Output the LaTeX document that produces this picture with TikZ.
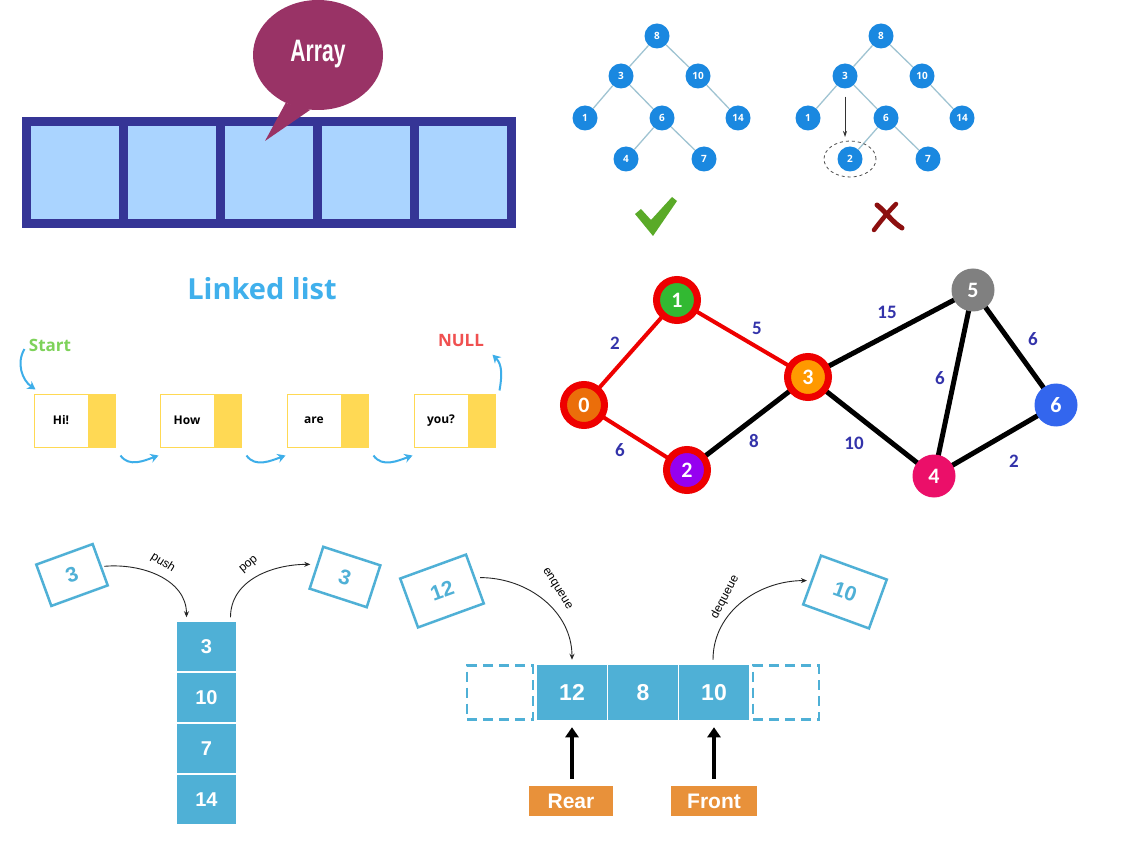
\documentclass[tikz,border=0pt]{standalone}
\usepackage{fontspec}
\setmainfont{Liberation Sans}
\newfontfamily\osans{Open Sans}
\newfontfamily\carl{Carlito}
\usepackage{graphicx}
\usetikzlibrary{shapes.geometric,arrows.meta}
\pgfdeclarelayer{edgelayer}
\pgfsetlayers{edgelayer,main}
\definecolor{arraydark}{RGB}{53,53,150}
\definecolor{arraycell}{RGB}{170,212,255}
\definecolor{bubblec}{RGB}{153,51,102}
\definecolor{treeblue}{RGB}{26,136,224}
\definecolor{treeedge}{RGB}{160,196,210}
\definecolor{checkgreen}{RGB}{90,170,40}
\definecolor{crossred}{RGB}{140,15,15}
\definecolor{lltitle}{RGB}{64,176,236}
\definecolor{startgreen}{RGB}{126,210,90}
\definecolor{nullred}{RGB}{240,80,80}
\definecolor{llyellow}{RGB}{255,217,84}
\definecolor{llarrowc}{RGB}{61,174,233}
\definecolor{ringred}{RGB}{238,0,0}
\definecolor{gz}{RGB}{235,110,10}
\definecolor{ga}{RGB}{50,185,50}
\definecolor{gb}{RGB}{150,0,240}
\definecolor{gc}{RGB}{255,153,0}
\definecolor{gd}{RGB}{235,15,105}
\definecolor{ge}{RGB}{128,128,128}
\definecolor{gf}{RGB}{51,102,238}
\definecolor{wlabel}{RGB}{51,51,170}
\definecolor{sq}{RGB}{79,176,214}
\definecolor{orangebox}{RGB}{232,145,58}
\begin{document}
\begin{tikzpicture}[x=1pt,y=1pt,
  arrcell/.style={rectangle, fill=arraycell, minimum width=88, minimum height=93, inner sep=0},
  bst/.style={circle, fill=treeblue, minimum size=25, inner sep=0, text=white, font=\osans\bfseries\fontsize{10}{10}\selectfont},
  bstedge/.style={treeedge, line width=1.3},
  lltitlestyle/.style={text=lltitle, font=\osans\bfseries\fontsize{29}{32}\selectfont},
  lldata/.style={rectangle, draw=llyellow, line width=1, fill=white, minimum width=54, minimum height=53, inner sep=0, font=\osans\bfseries\fontsize{12}{14}\selectfont},
  llptr/.style={rectangle, draw=llyellow, line width=1, fill=llyellow, minimum width=27, minimum height=53, inner sep=0},
  llarrow/.style={llarrowc, line width=2, -{Stealth[length=8pt,width=9pt]}},
  ringnode/.style={circle, draw=ringred, line width=7, minimum size=41, inner sep=0, text=white, font=\carl\bfseries\fontsize{22}{22}\selectfont},
  plainnode/.style={circle, minimum size=43, inner sep=0, text=white, font=\carl\bfseries\fontsize{22}{22}\selectfont},
  redge/.style={ringred, line width=4},
  bedge/.style={black, line width=5},
  wl/.style={text=wlabel, font=\carl\bfseries\fontsize{19}{19}\selectfont},
  sqcell/.style={rectangle, fill=sq, draw=white, line width=1.5, minimum width=61, minimum height=51, inner sep=0, text=white, font=\bfseries\fontsize{20}{20}\selectfont},
  qcell/.style={rectangle, fill=sq, draw=white, line width=1.5, minimum width=71, minimum height=56, inner sep=0, text=white, font=\bfseries\fontsize{23}{23}\selectfont},
  qdash/.style={rectangle, draw=sq, line width=2.5, dash pattern=on 10pt off 6pt, minimum width=66, minimum height=54, inner sep=0},
  tilted/.style={rectangle, draw=sq, line width=2.5, fill=white, inner sep=0, text=sq, font=\bfseries\fontsize{21}{21}\selectfont},
  opline/.style={black!85, line width=0.9, -{Stealth[length=6pt,width=5pt]}},
  oplabel/.style={font=\fontsize{12}{12}\selectfont, inner sep=0},
  thickarrow/.style={black, line width=3.2, -{Triangle[length=10pt,width=13pt]}},
  ptrbox/.style={rectangle, fill=orangebox, minimum height=30, inner sep=0, text=white, font=\bfseries\fontsize{21}{21}\selectfont}
]
\useasboundingbox (0,0) rectangle (1133,-850);
\begin{pgfonlayer}{edgelayer}
\fill[white] (0,0) rectangle (1133,-850);
\end{pgfonlayer}

% ---------------- Array ----------------
\node[rectangle, fill=arraydark, minimum width=494, minimum height=111, inner sep=0, anchor=north west] (arr) at (22,-117) {};
\node[arrcell] (c1) at (75,-172.5) {};
\node[arrcell] (c2) at (172,-172.5) {};
\node[arrcell] (c3) at (269,-172.5) {};
\node[arrcell] (c4) at (366,-172.5) {};
\node[arrcell] (c5) at (463,-172.5) {};
\node[ellipse, fill=bubblec, minimum width=130, minimum height=110, inner sep=0] (bub) at (318,-55) {};
\coordinate (tailtip) at (265,-141);
\fill[bubblec] (bub.236) -- (tailtip) -- (bub.262) -- cycle;
\node[text=white, inner sep=0] (arrtxt) at ([yshift=1]bub.center) {\scalebox{0.68}[1]{\bfseries\fontsize{31}{31}\selectfont Array}};

% ---------------- BST (valid) ----------------
\node[bst] (a8) at (657,-36) {8};
\node[bst] (a3) at (621,-76) {3};
\node[bst] (a10) at (698,-76) {10};
\node[bst] (a1) at (585,-118) {1};
\node[bst] (a6) at (662,-118) {6};
\node[bst] (a14) at (738,-118) {14};
\node[bst] (a4) at (626,-159) {4};
\node[bst] (a7) at (704,-159) {7};
\draw[bstedge] (a8) -- (a3); \draw[bstedge] (a8) -- (a10);
\draw[bstedge] (a3) -- (a1); \draw[bstedge] (a3) -- (a6);
\draw[bstedge] (a10) -- (a14);
\draw[bstedge] (a6) -- (a4); \draw[bstedge] (a6) -- (a7);

% ---------------- BST (invalid) ----------------
\node[bst] (b8) at (881,-36) {8};
\node[bst] (b3) at (845,-76) {3};
\node[bst] (b10) at (922,-76) {10};
\node[bst] (b1) at (808,-118) {1};
\node[bst] (b6) at (886,-118) {6};
\node[bst] (b14) at (962,-118) {14};
\node[bst] (b2) at (850,-159) {2};
\node[bst] (b7) at (928,-159) {7};
\draw[bstedge] (b8) -- (b3); \draw[bstedge] (b8) -- (b10);
\draw[bstedge] (b3) -- (b1); \draw[bstedge] (b3) -- (b6);
\draw[bstedge] (b10) -- (b14);
\draw[bstedge] (b6) -- (b2); \draw[bstedge] (b6) -- (b7);
\node[ellipse, draw=black!70, dashed, line width=0.8, minimum width=52, minimum height=36, inner sep=0] (ring2) at (b2) {};
\coordinate (arrend) at (845,-137);
\draw[black!80, line width=0.8, -{Stealth[length=6pt,width=4pt]}] ([yshift=-8]b3.south) -- (arrend);

% check and cross
\fill[checkgreen] (635,-214) -- (641,-209) -- (651,-220) -- (672,-197) -- (677,-201) -- (653,-236) -- cycle;
\draw[crossred, line width=5, line cap=round] (877,-205) .. controls (886,-212) and (892,-222) .. (902,-228);
\draw[crossred, line width=4.5, line cap=round] (896,-204) .. controls (888,-212) and (880,-222) .. (874,-230);

% ---------------- Linked list ----------------
\node[lltitlestyle] (lltitle) at (262,-289) {Linked list};
\node[text=startgreen, font=\osans\bfseries\fontsize{17}{17}\selectfont] (start) at (50,-345) {Start};
\node[text=nullred, font=\osans\bfseries\fontsize{17}{17}\selectfont] (null) at (461,-341) {NULL};
\node[lldata] (n1) at (61,-420.5) {Hi!};
\node[llptr] (p1) at (101.5,-420.5) {};
\node[lldata] (n2) at (187,-420.5) {How};
\node[llptr] (p2) at (227.5,-420.5) {};
\node[lldata] (n3) at (314,-420.5) {are};
\node[llptr] (p3) at (354.5,-420.5) {};
\node[lldata] (n4) at (441,-420.5) {you?};
\node[llptr] (p4) at (481.5,-420.5) {};
\draw[llarrow] ([shift={(5,-8)}]p1.south east) to[out=-55, in=200] ([shift={(-1,-8)}]n2.south west);
\draw[llarrow] ([shift={(5,-8)}]p2.south east) to[out=-55, in=200] ([shift={(-1,-8)}]n3.south west);
\draw[llarrow] ([shift={(5,-8)}]p3.south east) to[out=-55, in=200] ([shift={(-1,-8)}]n4.south west);
\draw[llarrow] ([shift={(-1,-4)}]start.west) to[out=240, in=145] ([shift={(2,4)}]n1.north west);
\draw[llarrow] ([shift={(4,3)}]p4.north east) to[out=80, in=-45] ([shift={(5,-4)}]null.south east);

% ---------------- Graph ----------------
\node[ringnode, fill=gz] (g0) at (584,-405) {0};
\node[ringnode, fill=ga] (g1) at (677,-300) {1};
\node[ringnode, fill=gb] (g2) at (687,-470) {2};
\node[ringnode, fill=gc] (g3) at (808,-377) {3};
\node[plainnode, fill=gd] (g4) at (934,-476) {4};
\node[plainnode, fill=ge] (g5) at (973,-290) {5};
\node[plainnode, fill=gf] (g6) at (1056,-405) {6};
\begin{pgfonlayer}{edgelayer}
\draw[redge] (g0.center) -- (g1.center);
\draw[redge] (g1.center) -- (g3.center);
\draw[redge] (g0.center) -- (g2.center);
\draw[bedge] (g2.center) -- (g3.center);
\draw[bedge] (g3.center) -- (g5.center);
\draw[bedge] (g3.center) -- (g4.center);
\draw[bedge] (g5.center) -- (g4.center);
\draw[bedge] (g5.center) -- (g6.center);
\draw[bedge] (g4.center) -- (g6.center);
\end{pgfonlayer}
\node[wl] (w01) at (615,-343) {2};
\node[wl] (w13) at (757,-328) {5};
\node[wl] (w02) at (620,-450) {6};
\node[wl] (w23) at (754,-441) {8};
\node[wl] (w35) at (887,-312) {15};
\node[wl] (w34) at (854,-443) {10};
\node[wl] (w54) at (940,-378) {6};
\node[wl] (w56) at (1033,-339) {6};
\node[wl] (w46) at (1014,-461) {2};

% ---------------- Stack ----------------
\node[sqcell] (s1) at (206.5,-646.5) {3};
\node[sqcell] (s2) at (206.5,-697.5) {10};
\node[sqcell] (s3) at (206.5,-748.5) {7};
\node[sqcell] (s4) at (206.5,-799.5) {14};
\node[tilted, minimum width=60, minimum height=44, rotate=20] (pushbox) at (72,-575) {3};
\node[tilted, minimum width=60, minimum height=44, rotate=-18] (popbox) at (345,-577) {3};
\draw[opline] ([shift={(3,-2)}]pushbox.east) to[out=5, in=90] ([shift={(-20,3)}]s1.north);
\draw[opline] ([shift={(24,3)}]s1.north) to[out=90, in=180] ([shift={(-5,3)}]popbox.west);
\node[oplabel, rotate=-32] (pushlbl) at (163,-563) {push};
\node[oplabel, rotate=40] (poplbl) at (249,-565) {pop};

% ---------------- Queue ----------------
\node[qdash] (qe1) at (500,-692.5) {};
\node[qcell] (q12) at (572,-692.5) {12};
\node[qcell] (q8) at (643,-692.5) {8};
\node[qcell] (q10) at (714,-692.5) {10};
\node[qdash] (qe2) at (786,-692.5) {};
\node[tilted, minimum width=70, minimum height=52, rotate=20] (enqbox) at (442,-591) {12};
\node[tilted, minimum width=70, minimum height=52, rotate=-20] (deqbox) at (845,-592) {10};
\draw[opline] ([shift={(4,1)}]enqbox.east) to[out=0, in=90] ([yshift=4]q12.north);
\draw[opline] ([shift={(-1,4)}]q10.north) to[out=90, in=180] ([shift={(-4,-1)}]deqbox.west);
\node[oplabel, rotate=-58] (enqlbl) at (557,-589) {enqueue};
\node[oplabel, rotate=62] (deqlbl) at (725,-597) {dequeue};
\node[ptrbox, minimum width=84] (rear) at (571,-801) {Rear};
\node[ptrbox, minimum width=86] (front) at (714,-801) {Front};
\draw[thickarrow] ([yshift=7]rear.north -| q12) -- ([yshift=-6]q12.south);
\draw[thickarrow] ([yshift=7]front.north -| q10) -- ([yshift=-6]q10.south);
\end{tikzpicture}
\end{document}
